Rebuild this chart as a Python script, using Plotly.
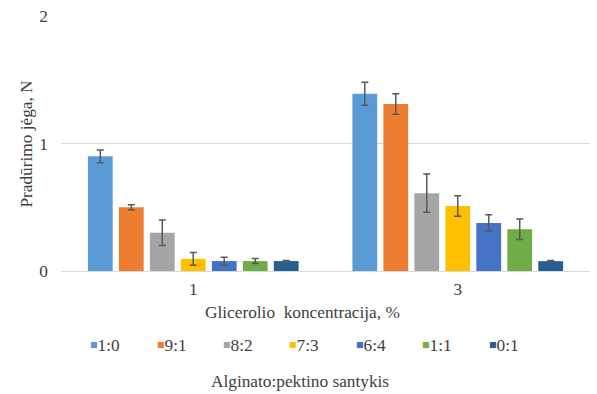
import plotly.graph_objects as go

# Glycerol concentration groups (x categories)
glycerol = ["1", "3"]

# Alginate:pectin ratios (series)
ratios = ["1:0", "9:1", "8:2", "7:3", "6:4", "1:1", "0:1"]
colors = ["#5B9BD5", "#ED7D31", "#A5A5A5", "#FFC000", "#4472C4", "#70AD47", "#255E91"]

# Puncture force, N (mean) for glycerol 1 % and 3 %
force = {
    "1:0": [0.90, 1.39],
    "9:1": [0.50, 1.31],
    "8:2": [0.30, 0.61],
    "7:3": [0.095, 0.51],
    "6:4": [0.078, 0.376],
    "1:1": [0.078, 0.328],
    "0:1": [0.078, 0.077],
}
# Standard deviations
force_sd = {
    "1:0": [0.05, 0.09],
    "9:1": [0.02, 0.08],
    "8:2": [0.10, 0.15],
    "7:3": [0.05, 0.08],
    "6:4": [0.03, 0.065],
    "1:1": [0.02, 0.08],
    "0:1": [0.005, 0.005],
}

FONT = "Liberation Serif"
TXT = "#404040"
FS = 17.3

fig = go.Figure()
for name, col in zip(ratios, colors):
    fig.add_trace(go.Bar(
        name=name, x=glycerol, y=force[name],
        marker=dict(color=col, line=dict(width=0)),
        error_y=dict(type="data", array=force_sd[name], visible=True,
                     color="#595959", thickness=1.5, width=3.5),
    ))

annotations = [
    dict(text="Pradūrimo jėga, N", xref="paper", yref="paper",
         x=-0.066, y=0.5, xanchor="center", yanchor="middle",
         textangle=-90, showarrow=False,
         font=dict(family=FONT, size=FS, color=TXT)),
    dict(text="Glicerolio  koncentracija, %", xref="paper", yref="paper",
         x=0.4556, y=-0.161, xanchor="center", yanchor="middle",
         showarrow=False, font=dict(family=FONT, size=FS, color=TXT)),
    dict(text="Alginato:pektino santykis", xref="paper", yref="paper",
         x=0.452, y=-0.435, xanchor="center", yanchor="middle",
         showarrow=False, font=dict(family=FONT, size=FS, color=TXT)),
]

# Horizontal key below the axis title: coloured square + ratio label
key_x0, key_step, key_y = 0.0535, 0.1255, -0.292
for i, (name, col) in enumerate(zip(ratios, colors)):
    annotations.append(dict(
        text=(f"<span style='color:{col};font-size:12.5px;baseline-shift:2px'>■</span>"
              f"{name}"),
        xref="paper", yref="paper", x=key_x0 + i * key_step, y=key_y,
        xanchor="left", yanchor="middle", showarrow=False, borderpad=0,
        font=dict(family=FONT, size=FS, color=TXT),
    ))

fig.update_layout(
    width=597, height=394,
    margin=dict(l=61, r=7, t=16, b=123),
    paper_bgcolor="white", plot_bgcolor="white",
    barmode="group", bargap=0.18, bargroupgap=0.2,
    font=dict(family=FONT, size=FS, color=TXT),
    showlegend=False,
    xaxis=dict(
        type="category", showgrid=False, zeroline=False, showline=False,
        ticks="", ticklabelstandoff=6,
        tickfont=dict(family=FONT, size=FS, color=TXT),
    ),
    yaxis=dict(
        range=[0, 2], tickvals=[0, 1, 2], ticktext=["0", "1", "2"],
        showgrid=True, gridcolor="#D9D9D9", gridwidth=1,
        zeroline=True, zerolinecolor="#D9D9D9", zerolinewidth=1,
        showline=False, ticks="", ticklabelstandoff=12,
        tickfont=dict(family=FONT, size=FS, color=TXT),
    ),
    annotations=annotations,
)

fig.write_html("out.html")
